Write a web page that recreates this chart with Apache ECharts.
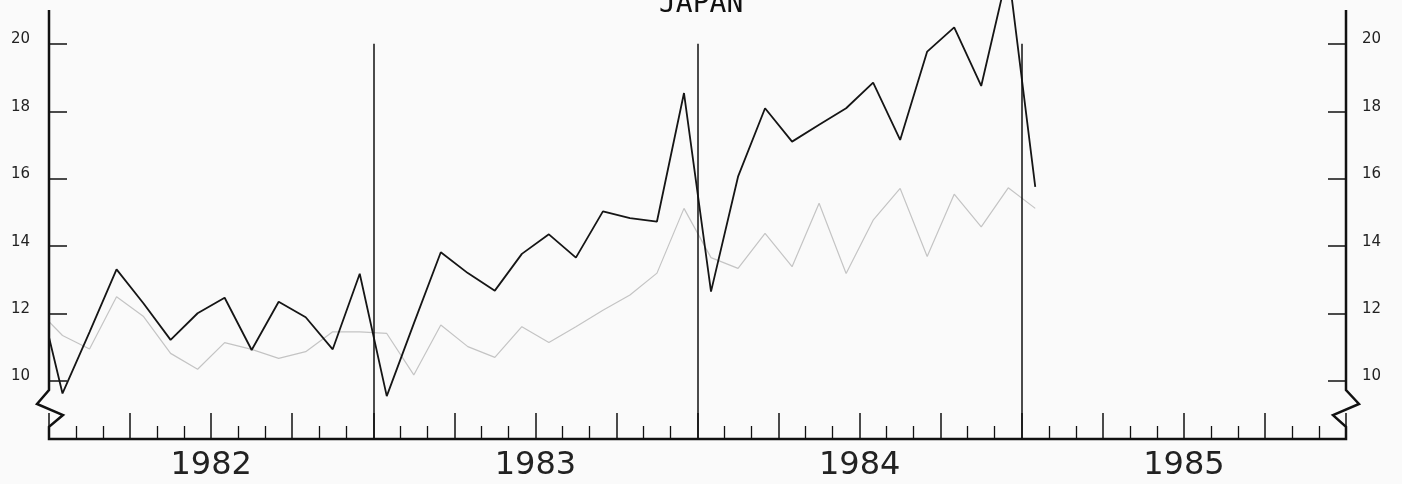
<!DOCTYPE html>
<html>
<head>
<meta charset="utf-8">
<script src="https://cdn.jsdelivr.net/npm/echarts@6/dist/echarts.min.js"></script>
<style>
  html, body { margin: 0; padding: 0; background: #fafafa; }
  #chart { width: 1402px; height: 484px; }
</style>
</head>
<body>
<div id="chart"></div>
<script>
const title = 'JAPAN';
const years = ['1982', '1983', '1984', '1985'];
const yTicks = [10, 12, 14, 16, 18, 20];
const yearBreaks = [12, 24, 36];
// monthly values, first one is Dec 1981 (clipped at the left axis), last one Jan 1985
const blackValues = [12.96, 9.63, 11.45, 13.31, 12.3, 11.22, 12.01, 12.47, 10.92, 12.35, 11.89, 10.94, 13.18,
  9.55, 11.7, 13.82, 13.2, 12.68, 13.77, 14.35, 13.66, 15.03, 14.83, 14.73, 18.54,
  12.65, 16.06, 18.09, 17.1, 17.6, 18.09, 18.85, 17.15, 19.77, 20.49, 18.75, 22.2,
  15.76];
const grayValues = [12.17, 11.35, 10.95, 12.5, 11.91, 10.82, 10.35, 11.14, 10.94, 10.67, 10.87, 11.46, 11.46,
  11.41, 10.18, 11.66, 11.02, 10.7, 11.61, 11.14, 11.61, 12.1, 12.55, 13.2, 15.12,
  13.66, 13.34, 14.38, 13.39, 15.27, 13.19, 14.77, 15.71, 13.69, 15.54, 14.57, 15.73,
  15.12];

const yMin = 8.28, yMax = 21.3;

const chart = echarts.init(document.getElementById('chart'));
const toPts = (vals) => vals.map((v, i) => [i - 0.5, v]);

const yAxisBase = {
  type: 'value', min: yMin, max: yMax,
  axisLine: { show: false },
  splitLine: { show: false },
  axisTick: { show: true, inside: true, length: 18, customValues: yTicks, lineStyle: { color: '#111', width: 1.5 } },
  axisLabel: { customValues: yTicks, fontFamily: 'DejaVu Sans', fontSize: 15, color: '#222', verticalAlign: 'bottom', lineHeight: 9 }
};

chart.setOption({
  animation: false,
  backgroundColor: '#fafafa',
  title: {
    text: title, left: 654, top: -14,
    textStyle: { fontFamily: 'DejaVu Sans Mono', fontSize: 28, fontWeight: 'normal', color: '#111' }
  },
  grid: { left: 49, right: 56, top: 0, bottom: 45, outerBoundsMode: 'none' },
  xAxis: {
    type: 'value', min: 0, max: 48, interval: 3,
    axisLine: { show: false },
    splitLine: { show: false },
    axisTick: { show: true, inside: true, length: 26, lineStyle: { color: '#111', width: 1.5 } },
    minorTick: { show: true, splitNumber: 3, length: 13, lineStyle: { color: '#111', width: 1.3 } },
    axisLabel: {
      customValues: years.map((y, i) => 6 + i * 12),
      formatter: (v) => years[Math.round((v - 6) / 12)],
      margin: 11, fontFamily: 'DejaVu Sans', fontSize: 32, color: '#222'
    }
  },
  yAxis: [
    Object.assign({}, yAxisBase, { position: 'left', axisLabel: Object.assign({}, yAxisBase.axisLabel, { margin: 19 }) }),
    Object.assign({}, yAxisBase, { position: 'right', axisLabel: Object.assign({}, yAxisBase.axisLabel, { margin: 16 }) })
  ],
  series: [
    {
      type: 'line', data: toPts(grayValues), symbol: 'none', clip: true,
      lineStyle: { color: '#c4c4c4', width: 1.2 }
    },
    {
      type: 'line', data: toPts(blackValues), symbol: 'none', clip: true,
      lineStyle: { color: '#151515', width: 1.8 },
      markLine: {
        silent: true, symbol: 'none', label: { show: false },
        lineStyle: { color: '#111', width: 1.5, type: 'solid' },
        data: yearBreaks.map(x => [{ coord: [x, yMin] }, { coord: [x, 20] }])
      }
    }
  ]
});

// axis frame with the broken-scale zigzags on both sides
function px(x, y) { return chart.convertToPixel({ gridIndex: 0 }, [x, y]); }
const [L, B] = px(0, yMin);
const [R] = px(48, yMin);
const yTop = px(0, 21.0)[1];
const z1 = px(0, 9.73)[1], z2 = px(0, 9.32)[1], z3 = px(0, 8.99)[1], z4 = px(0, 8.64)[1];
const frame = [
  [L, yTop], [L, z1], [L - 12, z2], [L + 14, z3], [L, z4], [L, B],
  [R, B], [R, z4], [R - 13, z3], [R + 13, z2], [R, z1], [R, yTop]
];
chart.setOption({
  graphic: [{
    type: 'polyline', silent: true, z: 10,
    shape: { points: frame },
    style: { stroke: '#111', lineWidth: 2.5, fill: null, lineJoin: 'miter' }
  }]
});
</script>
</body>
</html>
